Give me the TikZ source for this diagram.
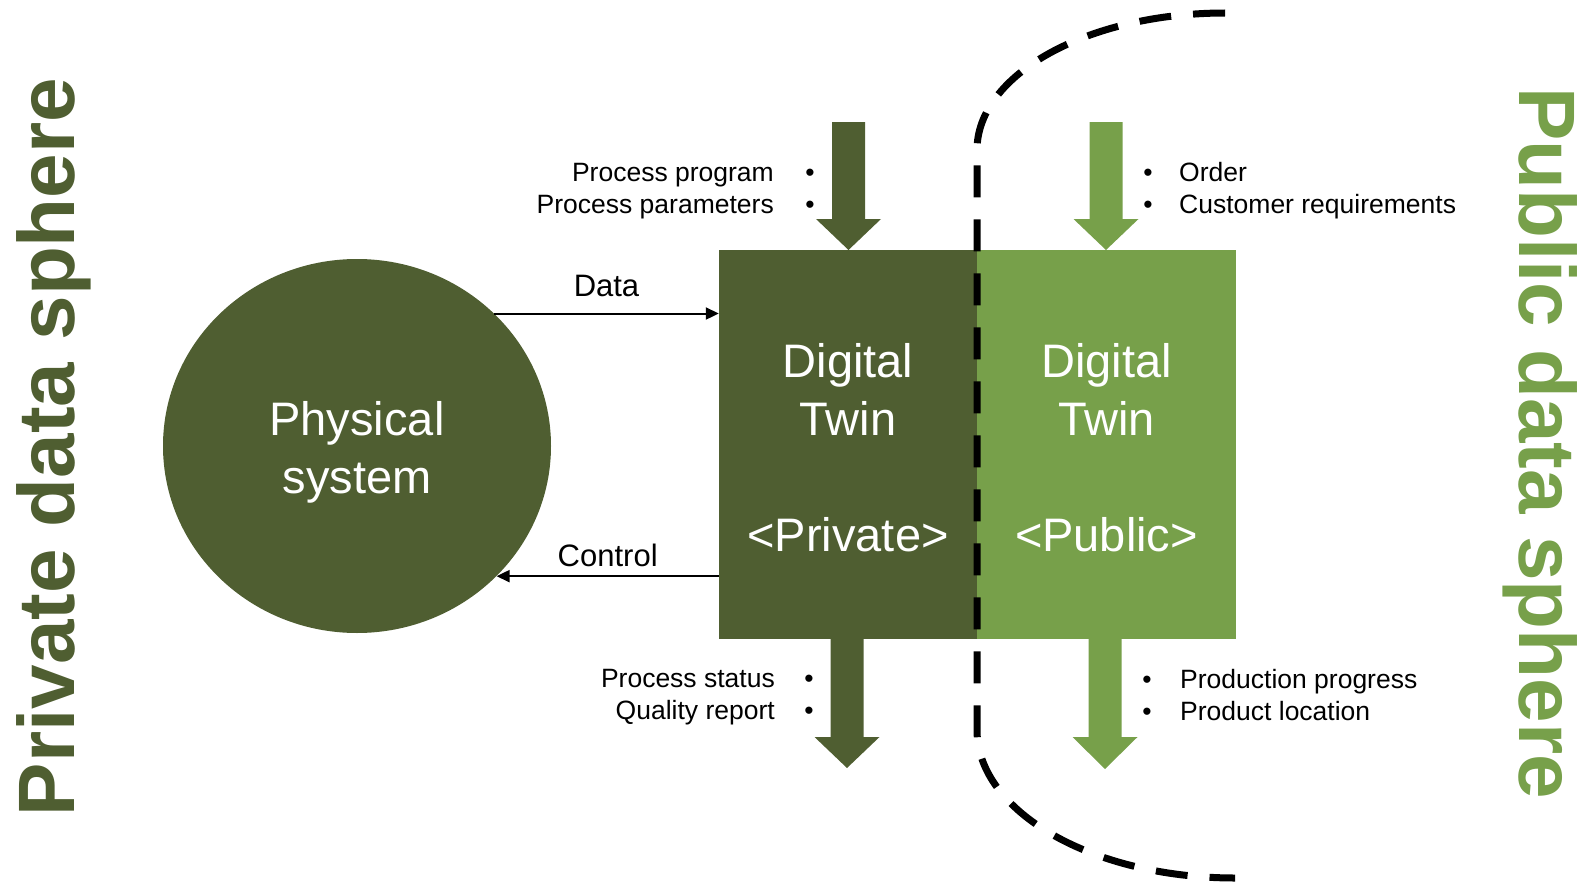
\documentclass[tikz,border=0pt]{standalone}
\usepackage{fontspec}
\setmainfont{Liberation Sans}
\usetikzlibrary{shapes.geometric,arrows.meta}
\definecolor{dgreen}{RGB}{79,94,49}
\definecolor{lgreen}{RGB}{119,160,74}
\begin{document}
\begin{tikzpicture}[x=1pt,y=1pt,
  box/.style={rectangle, inner sep=0pt, minimum width=258pt, minimum height=389pt, text=white, align=center, font=\fontsize{47}{58}\selectfont},
  conn/.style={line width=2pt, -{Triangle[length=13pt,width=12pt]}},
  small/.style={font=\fontsize{26.5}{32}\selectfont, inner sep=0pt, anchor=base},
  lbl/.style={font=\fontsize{31}{37}\selectfont, inner sep=0pt},
  sphere/.style={font=\fontsize{80}{96}\selectfont\bfseries, inner sep=0pt, anchor=base},
  border/.style={line width=7pt, dash pattern=on 32pt off 22pt}]
\useasboundingbox (0,0) rectangle (1580,-883);

% physical system
\node[ellipse, fill=dgreen, minimum width=388pt, minimum height=374pt, inner sep=0pt, text=white, align=center, font=\fontsize{47}{58}\selectfont] (phys) at (357,-446) {\rule{0pt}{46pt}Physical\\system};

% digital twins
\node[box, fill=dgreen] (dpriv) at (848,-444.5) {\rule{0pt}{41pt}Digital\\Twin\\[58pt]<Private>};
\node[box, fill=lgreen, minimum width=259pt] (dpub) at (1106.5,-444.5) {\rule{0pt}{41pt}Digital\\Twin\\[58pt]<Public>};

% block arrows
\fill[dgreen] (832,-122) -- (865,-122) -- (865,-219) -- (881,-219) -- (848.5,-250) -- (816,-219) -- (832,-219) -- cycle;
\fill[lgreen] (1089.5,-122) -- (1122.5,-122) -- (1122.5,-219) -- (1138.5,-219) -- (1106,-250) -- (1073.5,-219) -- (1089.5,-219) -- cycle;
\fill[dgreen] (830.5,-636) -- (863.5,-636) -- (863.5,-737) -- (879.5,-737) -- (847,-768) -- (814.5,-737) -- (830.5,-737) -- cycle;
\fill[lgreen] (1088.5,-636) -- (1121.5,-636) -- (1121.5,-737) -- (1137.5,-737) -- (1105,-769) -- (1072.5,-737) -- (1088.5,-737) -- cycle;

% data / control
\draw[conn] (phys.44.4) -- (phys.44.4 -| dpriv.west) node[lbl, midway, anchor=south, yshift=16pt] (datalbl) {Data};
\draw[conn] (phys.-43 -| dpriv.west) -- (phys.-43) node[lbl, midway, anchor=south, yshift=8pt] (ctrllbl) {Control};

% bullet lists
\node[small, anchor=base east] (t1) at (774,-181.5) {Process program};
\node[small] (b1) at (810,-181.5) {•};
\node[small, anchor=base east] (t2) at (774,-213.5) {Process parameters};
\node[small] (b2) at (810,-213.5) {•};

\node[small] (b3) at (1148,-181.5) {•};
\node[small, anchor=base west] (t3) at (1179,-181.5) {Order};
\node[small] (b4) at (1148,-213.5) {•};
\node[small, anchor=base west] (t4) at (1179,-213.5) {Customer requirements};

\node[small, anchor=base east] (t5) at (775,-687) {Process status};
\node[small] (b5) at (809,-687) {•};
\node[small, anchor=base east] (t6) at (775,-719) {Quality report};
\node[small] (b6) at (809,-719) {•};

\node[small] (b7) at (1147,-688) {•};
\node[small, anchor=base west] (t7) at (1180,-688) {Production progress};
\node[small] (b8) at (1147,-720) {•};
\node[small, anchor=base west] (t8) at (1180,-720) {Product location};

% sphere boundary
\draw[border] (1225,-13) arc[start angle=90, end angle=180, x radius=248, y radius=137] -- (977,-730) arc[start angle=180, end angle=270, x radius=258, y radius=148];

% sphere labels
\node[sphere, text=dgreen, rotate=90] (priv) at (74,-447) {Private data sphere};
\node[sphere, text=lgreen, rotate=-90] (pub) at (1519,-443) {Public data sphere};
\end{tikzpicture}
\end{document}
